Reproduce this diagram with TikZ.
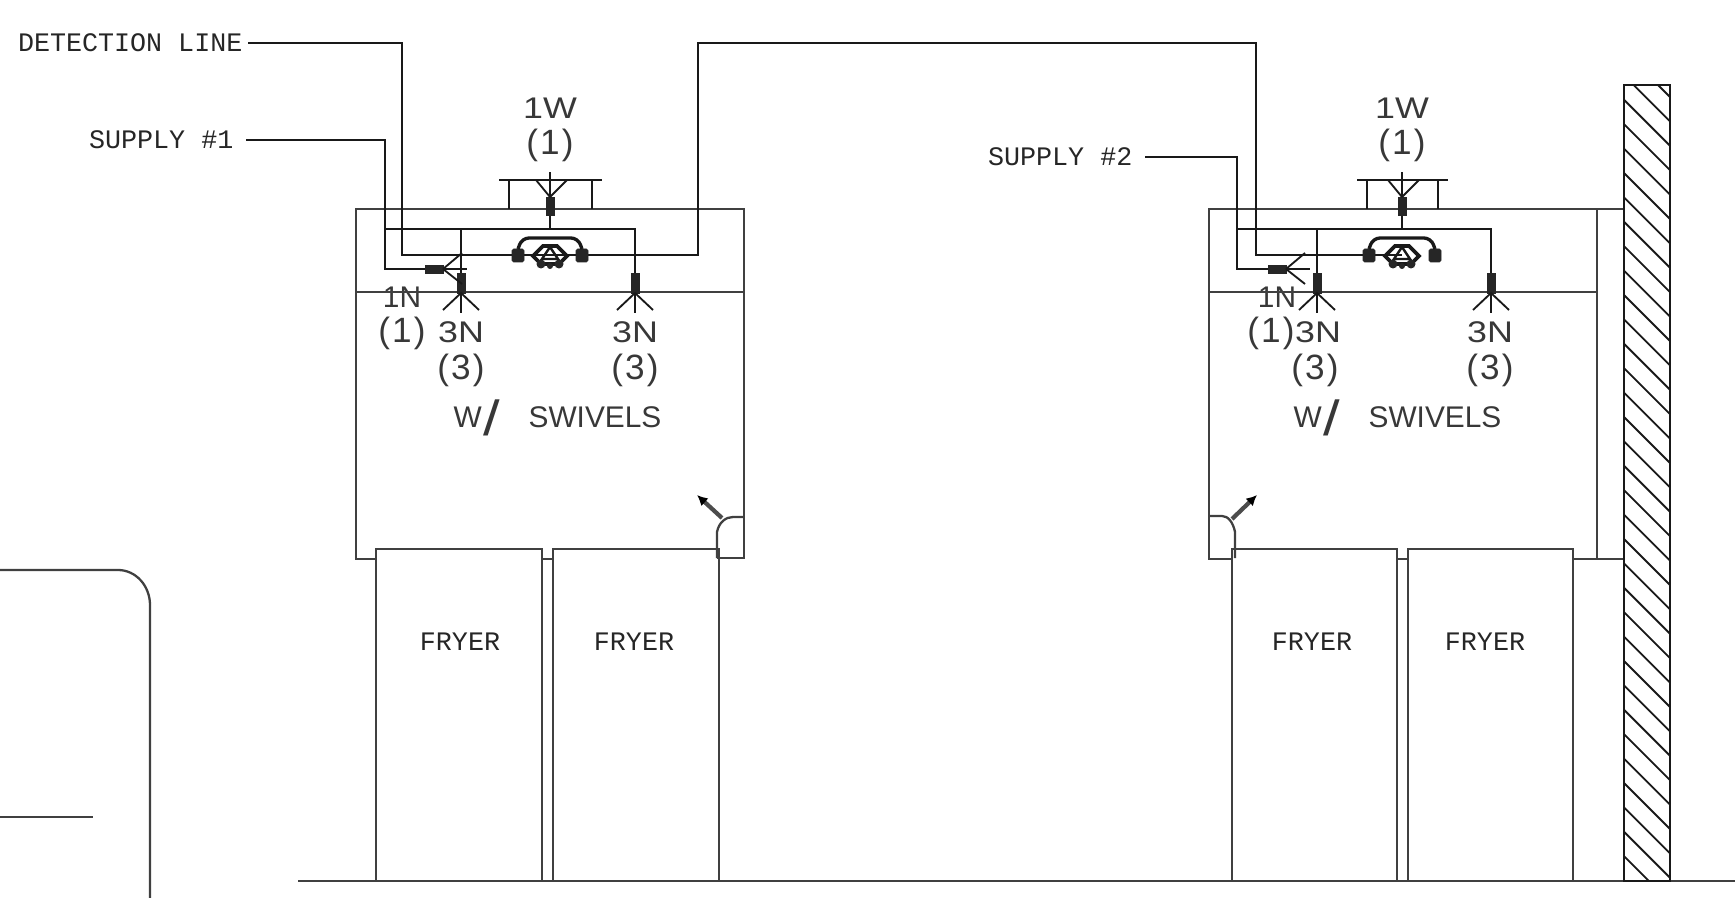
\documentclass[tikz,border=0pt]{standalone}
\usepackage{fontspec}
\setmainfont{Liberation Sans}
\setmonofont{Liberation Mono}
\usetikzlibrary{arrows.meta}
\tikzset{
  hoodline/.style={draw=black!75, line width=1.3pt},
  pipeline/.style={draw=black!90, line width=1.05pt},
  pullarrow/.style={draw=black!70, line width=2.4pt, -{Latex[length=6pt,width=6pt,black]}},
  bluntlabel/.style={font=\ttfamily\fontsize{15.2}{15.2}\selectfont, text=black!85, inner sep=0pt},
  nozzlelabel/.style={font=\fontsize{17}{17}\selectfont, text=black!78, inner sep=0pt},
  fitting/.style={fill=black!85, draw=black!85, line width=.5pt},
}
\newcommand{\widelabel}[1] {\scalebox{1.2}[1]{#1}}
\newcommand{\countlabel}[1] {{\fontsize{20}{20}\selectfont(\kern1.2pt{}#1\kern1.2pt{})}}
\newcommand{\swivellabel} {W\kern1pt\raisebox{-4.5pt}{\scalebox{2}[1.65]{/}}}
\newcommand{\nozzledown}[1] {\filldraw[fitting] (#1) ++(-4,0) rectangle ++(8,20);
  \draw[pipeline] (#1) ++(0,20) -- ++(0,20); \draw[pipeline] (#1) ++(0,20) -- ++(-18,17); \draw[pipeline] (#1) ++(0,20) -- ++(18,17);}
\newcommand{\nozzleup}[1] {\filldraw[fitting] (#1) ++(-4,0) rectangle ++(8,-18);
  \draw[pipeline] (#1) ++(0,-18) -- ++(0,-25); \draw[pipeline] (#1) ++(0,-18) -- ++(-14,-17); \draw[pipeline] (#1) ++(0,-18) -- ++(17,-17);}
\newcommand{\nozzleside}[1] {\filldraw[fitting] (#1) ++(0,-4) rectangle ++(18,8);
  \draw[pipeline] (#1) ++(18,0) -- ++(24,0); \draw[pipeline] (#1) ++(18,0) -- ++(19,-16); \draw[pipeline] (#1) ++(18,0) -- ++(19,15);}
\newcommand{\releasebox}[2] {\filldraw[fitting, rounded corners=1pt] (#1) ++(-#2-6,-6) rectangle ++(12,13); \filldraw[fitting, rounded corners=1pt] (#1) ++(#2-6,-6) rectangle ++(12,13);
  \draw[pipeline, line width=1.9pt, rounded corners=4pt] (#1) ++(-#2,-6) -- ++(4,-11) -- ++(2*#2-8,0) -- ++(4,11);
  \draw[pipeline, line width=2.1pt] (#1) ++(-17,1) -- ++(10,-10) -- ++(14,0) -- ++(10,10) -- ++(-8,8) -- ++(-18,0) -- cycle;
  \draw[pipeline, line width=1.4pt] (#1) ++(-8,4) -- ++(8,-12) -- ++(8,12) -- cycle;
  \fill[black!85] (#1) ++(-9,9) circle [radius=4.5]; \fill[black!85] (#1) ++(9,9) circle [radius=4.5]; \fill[black!85] (#1) ++(0,11) circle [radius=3];}
\newcommand{\fryerbox}[4] {\draw[hoodline] (#1,880) |- (#2,549) -- (#2,880);
  \node at (#3,642) (#4) [bluntlabel] {FRYER};}
\newcommand{\hoodshield}[2] {\draw[pipeline] (#1,180) -- (#2,180); \draw[pipeline] (#1+10,180) -- (#1+10,209); \draw[pipeline] (#2-10,180) -- (#2-10,209);}
\begin{document}
\begin{tikzpicture}[x=0.02cm, y=-0.02cm]
\useasboundingbox (0,0) rectangle (1735,898);

% labels
\node at (248,43) (detection) [bluntlabel, anchor=east, inner xsep=3pt] {DETECTION LINE};
\node at (246,140) (supplya) [bluntlabel, anchor=east, inner xsep=7pt] {SUPPLY \#1};
\node at (1145,157) (supplyb) [bluntlabel, anchor=east, inner xsep=7pt] {SUPPLY \#2};

\node at (550,108) (wa) [nozzlelabel] {\widelabel{1W}};
\node at (550,145) (wacount) [nozzlelabel] {\countlabel{1}};
\node at (402,297) (na) [nozzlelabel] {1N};
\node at (402,333) (nacount) [nozzlelabel] {\countlabel{1}};
\node at (461,332) (nb) [nozzlelabel] {\widelabel{3N}};
\node at (461,370) (nbcount) [nozzlelabel] {\countlabel{3}};
\node at (635,332) (nc) [nozzlelabel] {\widelabel{3N}};
\node at (635,370) (nccount) [nozzlelabel] {\countlabel{3}};
\node at (477,418) (swa) [nozzlelabel] {\swivellabel};
\node at (595,417) (swb) [nozzlelabel] {SWIVELS};

\node at (1402,108) (wb) [nozzlelabel] {\widelabel{1W}};
\node at (1402,145) (wbcount) [nozzlelabel] {\countlabel{1}};
\node at (1277,297) (nd) [nozzlelabel] {1N};
\node at (1271,333) (ndcount) [nozzlelabel] {\countlabel{1}};
\node at (1318,332) (ne) [nozzlelabel] {\widelabel{3N}};
\node at (1315,370) (necount) [nozzlelabel] {\countlabel{3}};
\node at (1490,332) (nf) [nozzlelabel] {\widelabel{3N}};
\node at (1490,370) (nfcount) [nozzlelabel] {\countlabel{3}};
\node at (1317,418) (swc) [nozzlelabel] {\swivellabel};
\node at (1435,417) (swd) [nozzlelabel] {SWIVELS};

% fryers and floor
\fryerbox {376} {542} {460} {fryera};
\fryerbox {553} {719} {634} {fryerb};
\fryerbox {1232} {1397} {1312} {fryerc};
\fryerbox {1408} {1573} {1485} {fryerd};
\draw[hoodline] (298,881) -- (1735,881);

% hoods
\draw[hoodline] (377,559) -- (356,559) -- (356,209) -- (744,209) -- (744,558) -- (717,558);
\draw[hoodline] (356,292) -- (744,292);
\draw[hoodline] (542,559) -- (553,559);
\draw[hoodline] (717,558) -- (717,532) .. controls (719,522) and (726,517) .. (733,517) -- (744,517);
\draw[pullarrow] (722,518) -- (697,495);
\draw[hoodline] (1232,559) -- (1209,559) -- (1209,209) -- (1624,209);
\draw[hoodline] (1209,292) -- (1597,292);
\draw[hoodline] (1597,209) -- (1597,559);
\draw[hoodline] (1397,559) -- (1408,559);
\draw[hoodline] (1573,559) -- (1624,559);
\draw[hoodline] (1235,558) -- (1235,532) .. controls (1233,522) and (1228,516) .. (1222,516) -- (1209,516);
\draw[pullarrow] (1232,519) -- (1257,495);
\hoodshield {499} {602};
\hoodshield {1357} {1448};

% pipes
\coordinate (releasea) at (550,255);
\coordinate (releaseb) at (1402,255);
\coordinate (tee) at (550,229);
\coordinate (teeb) at (1402,229);
\coordinate (dropa) at (461,273);
\coordinate (dropb) at (635,273);
\coordinate (dropc) at (1317,273);
\coordinate (dropd) at (1491,273);
\coordinate (sidea) at (425,269);
\coordinate (sideb) at (1268,269);
\coordinate (upa) at (550,215);
\coordinate (upb) at (1402,215);

\draw[pipeline] (detection.east) -- (402,43) -- (402,255) -- (698,255) -- (698,43) -- (1256,43) -- (1256,255) -- (releaseb);
\draw[pipeline] (supplya.east) -- (385,140) -- (385,269) -- (sidea);
\draw[pipeline] (385,229) -- (635,229) -- (dropb);
\draw[pipeline] (461,229) -- (dropa);
\draw[pipeline] (tee) -- (upa);
\draw[pipeline] (supplyb.east) -- (1237,157) -- (1237,269) -- (sideb);
\draw[pipeline] (1237,229) -- (1491,229) -- (dropd);
\draw[pipeline] (1317,229) -- (dropc);
\draw[pipeline] (teeb) -- (upb);

\nozzleup {upa};
\nozzleup {upb};
\nozzledown {dropa};
\nozzledown {dropb};
\nozzledown {dropc};
\nozzledown {dropd};
\nozzleside {sidea};
\nozzleside {sideb};
\releasebox {releasea} {32};
\releasebox {releaseb} {33};

% wall
\begin{scope}
\clip (1624,85) rectangle (1670,881);
\foreach \y in {0,...,35} {\draw[pipeline] (1624,51+24.4*\y) -- (1670,97+24.4*\y);}
\end{scope}
\draw[pipeline, line width=1.3pt] (1624,85) rectangle (1670,881);

% left edge
\draw[hoodline] (0,570) -- (118,570) .. controls (136,570) and (150,586) .. (150,605) -- (150,898);
\draw[hoodline] (0,817) -- (93,817);
\end{tikzpicture}
\end{document}
